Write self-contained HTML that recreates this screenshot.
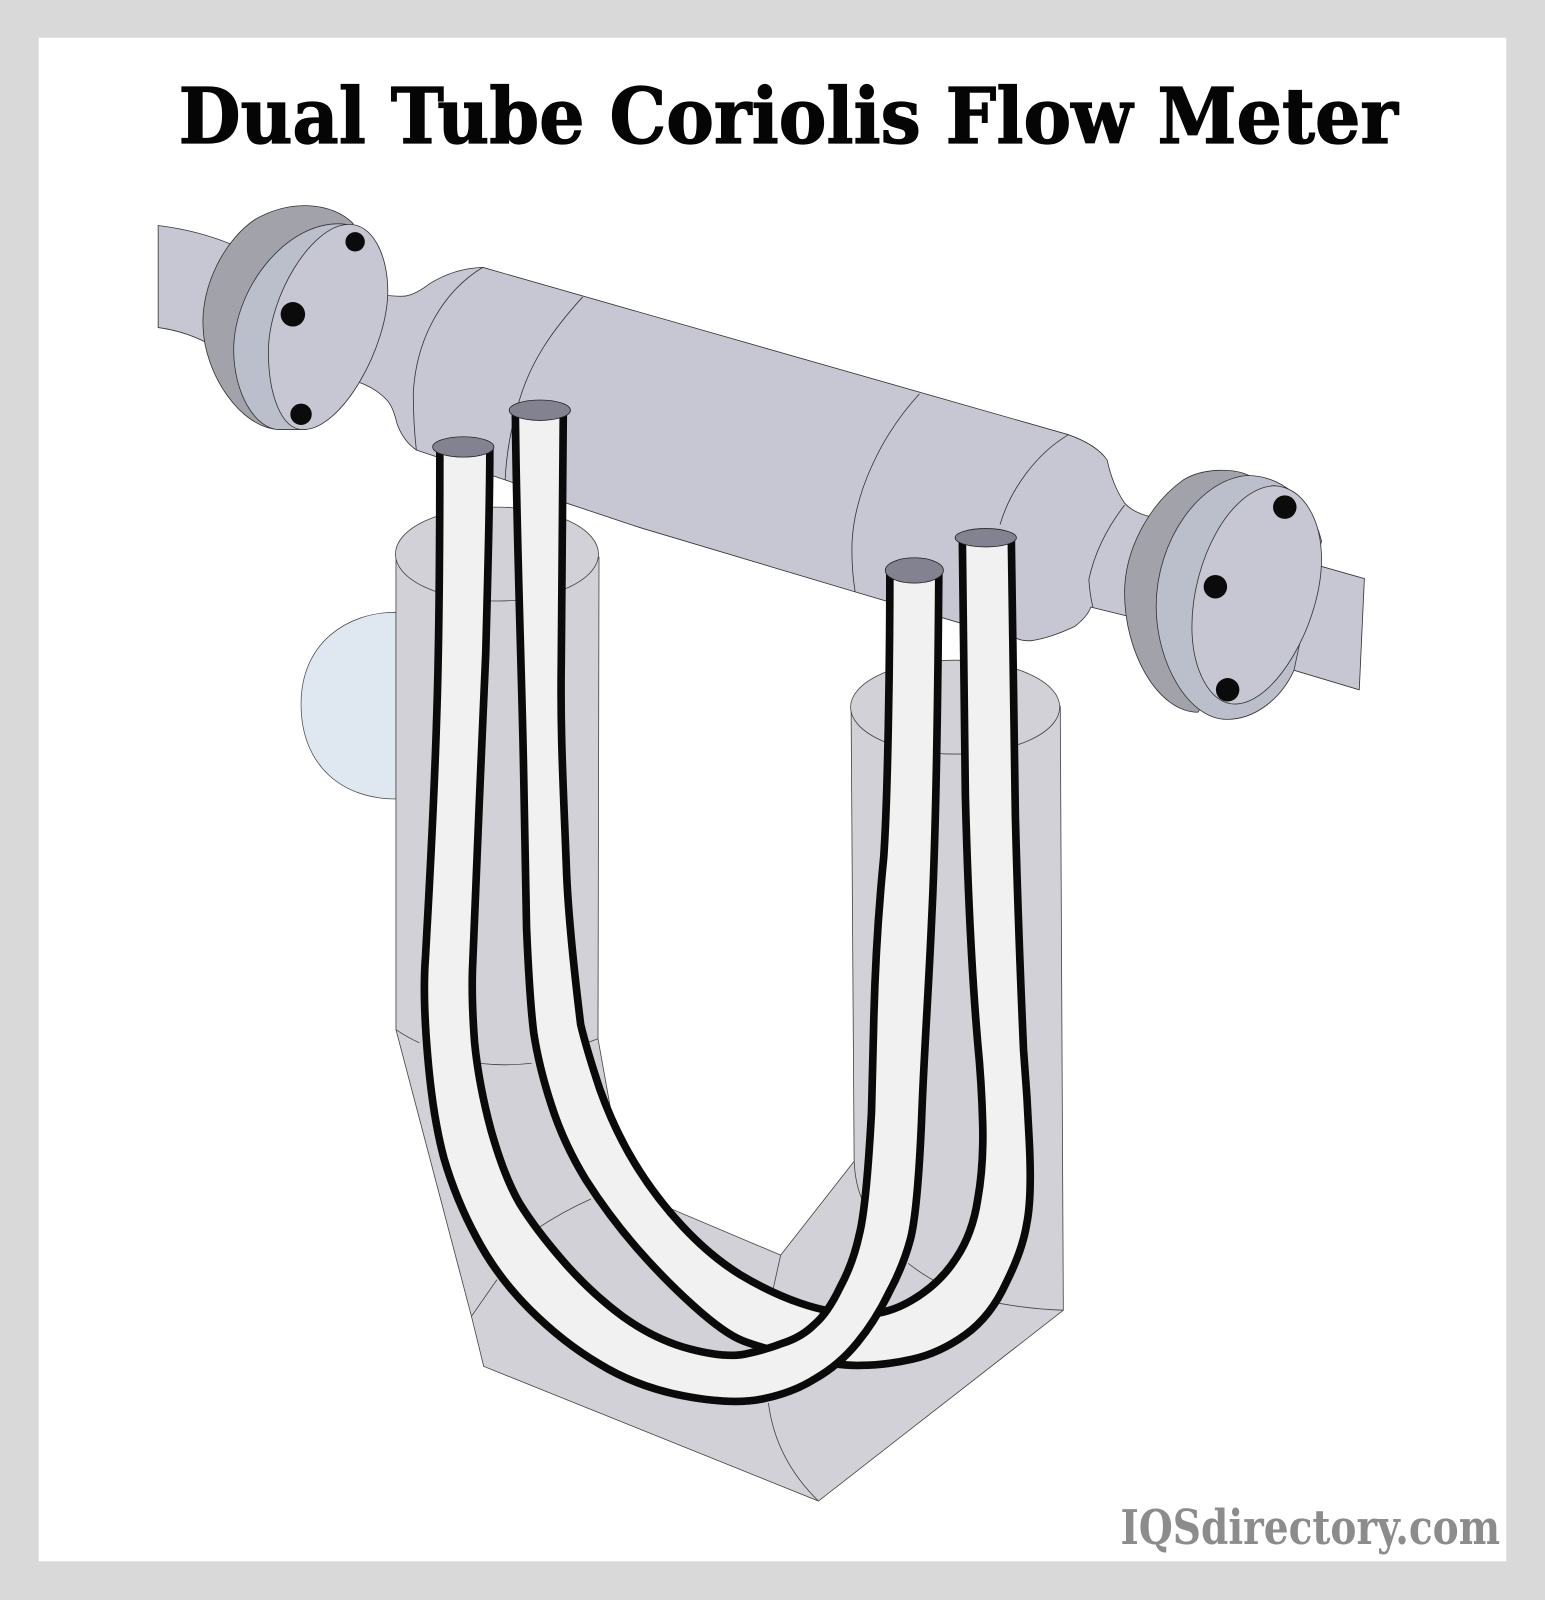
<!DOCTYPE html>
<html><head><meta charset="utf-8"><title>Dual Tube Coriolis Flow Meter</title>
<style>html,body{margin:0;padding:0;background:#d9d9d9}svg{display:block}</style></head>
<body>
<svg xmlns="http://www.w3.org/2000/svg" width="1545" height="1600" viewBox="0 0 1514 1568" preserveAspectRatio="none">
<rect width="1514" height="1568" fill="#d9d9d9"/>
<rect x="38" y="37" width="1438" height="1493" fill="#fff"/>
<text x="175" y="140" font-family="'DejaVu Serif','Liberation Serif',serif" font-weight="bold" font-size="75" textLength="1195" lengthAdjust="spacingAndGlyphs" fill="#050505" stroke="#050505" stroke-width="1.2">Dual Tube Coriolis Flow Meter</text>
<text x="1098" y="1513" font-family="'DejaVu Serif','Liberation Serif',serif" font-weight="bold" font-size="47" textLength="372" lengthAdjust="spacingAndGlyphs" fill="#8c8c8c">IQSdirectory.com</text>

<!-- bump -->
<path d="M388,600 C340,600 295,630 295,690 C295,750 335,783 388,783 Z" fill="#dfe8f0" stroke="#444" stroke-width=".7"/>

<!-- housing -->
<g fill="#d1d1d7" stroke="#444" stroke-width=".8">
<path d="M388,546 L388,1009 L462,1290 L474,1339 L802,1471 L1042,1284 L1039,692 L834,692 L837,1138 L765,1230 L649,1181 L602,1107 L586,1018 L587,546 Z"/>
<ellipse cx="487" cy="543" rx="99.500" ry="46"/>
<ellipse cx="936" cy="693" rx="102.500" ry="46"/>
<g fill="none">
<path d="M388,1009 Q398,1016 411,1022"/>
<path d="M469,1042 Q495,1045 521,1042"/>
<path d="M575,1022 L586,1018"/>
<path d="M462,1290 L487,1254"/>
<path d="M525,1205 Q550,1188 579,1175"/>
<path d="M765,1230 L757,1266"/>
<path d="M837,1138 Q838,1160 845,1176"/>
<path d="M890,1238 Q905,1250 921,1258"/>
<path d="M978,1277 Q1010,1283 1042,1284"/>
<path d="M753,1375 Q760,1430 802,1471"/>
</g>
</g>

<!-- stubs -->
<g fill="#c7c7d3" stroke="#333" stroke-width=".8">
<path d="M155,221 Q195,226 228,240 L210,340 Q185,325 155,321 Z"/>
<path d="M1270,548 L1337,567 L1332,676 L1255,653 Z"/>
</g>

<!-- main body -->
<path d="M375,289 Q390,291 398,290 Q408,288 421,278 Q445,263 473,262 L1047,426 Q1075,436 1085,451 Q1090,475 1102,493 Q1110,502 1126,506 L1110,605 L1069,595 Q1065,605 1053,614 Q1030,625 1010,628 Q1000,628 995,625 L939,610 L838,580 L627,517 L555,493 L500,472 L408,441 Q395,432 389,415 Q385,398 379,392 Q368,380 350,374 Z" fill="#c7c7d3" stroke="#333" stroke-width=".8"/>
<g fill="none" stroke="#333" stroke-width=".8">
<path d="M473,262 C435,285 408,330 405,385 Q405,415 408,441"/>
<path d="M571,291 C540,325 520,355 509,392 Q497,430 495,470"/>
<path d="M901,386 C865,425 838,480 835,530 Q834,555 838,580"/>
<path d="M1047,426 C1015,445 990,480 980,514"/>
<path d="M1102,495 Q1075,530 1067,568 Q1068,583 1071,595"/>
</g>

<!-- left flange -->
<g stroke="#333" stroke-width=".8">
<path d="M346,219 C325,198 285,195 250,215 C220,235 197,280 199,320 C200,365 235,420 274,421 L300,300 Z" fill="#a2a2ab"/>
<path d="M340,220 C285,212 229,280 229,343 C229,385 250,421 274,421 L300,421 Z" fill="#bbbfcb"/>
<path d="M340,220 C365,218 380,250 380,285 C380,340 335,421 297,421 C275,421 263,385 263,345 C263,290 305,222 340,220 Z" fill="#c7c7d3"/>
</g>
<g fill="#0b0b0b">
<circle cx="348" cy="237" r="9.500"/><circle cx="287" cy="308" r="12"/><circle cx="295" cy="406" r="10.500"/>
</g>

<!-- right flange -->
<g stroke="#333" stroke-width=".8">
<path d="M1224,466 C1210,459 1180,458 1160,470 C1125,495 1102,540 1102,581 C1102,640 1135,698 1174,698 L1230,600 Z" fill="#a2a2ab"/>
<path d="M1222,466 C1255,466 1285,490 1295,530 L1268,657 C1255,685 1230,705 1202,705 C1165,705 1133,650 1133,594 C1133,530 1175,470 1222,466 Z" fill="#bbbfcb"/>
<path d="M1249,476 C1278,478 1295,510 1295,548 C1295,610 1250,690 1210,690 C1185,690 1168,655 1168,614 C1168,550 1205,478 1249,476 Z" fill="#c7c7d3"/>
</g>
<g fill="#0b0b0b">
<circle cx="1259" cy="497" r="11.500"/><circle cx="1191" cy="575" r="11.500"/><circle cx="1203" cy="676" r="11.500"/>
</g>

<!-- tubes -->
<g fill="#f1f1f2" stroke="#0a0a0a" stroke-width="7.500" stroke-linejoin="round">
<path d="M505,402 C506,520 511,650 513,750 C514,830 515,870 516,910 Q519,980 523,1012 Q528,1045 540,1082 Q552,1120 574,1156 Q597,1192 624,1223 Q651,1254 680,1280 Q710,1307 728,1314 Q746,1321 784,1330 Q822,1339 844,1338 Q867,1338 894,1332 Q921,1326 946,1308 Q971,1290 986,1257 Q1002,1225 1006,1200 Q1011,1176 1009,1127 Q1007,1078 1003,1029 C1000,960 997,880 995,800 C993,700 992,600 991,526 L943,526 C944,620 945,700 946,780 C948,860 952,950 958,1021 Q962,1062 963,1102 Q964,1143 958,1176 Q953,1209 937,1233 Q921,1258 894,1274 Q867,1290 840,1288 Q813,1287 784,1277 Q755,1267 725,1249 Q696,1231 669,1202 Q642,1173 622,1140 Q602,1107 588,1068 Q575,1029 569,1004 C560,930 556,880 555,850 C552,770 549,720 550,650 C551,540 552,450 552,402 Z"/>
<path d="M431,438 C431,560 430,640 428,700 C425,800 420,880 417,937 Q414,975 419,1034 Q424,1094 435,1135 Q447,1176 467,1213 Q487,1251 519,1283 Q552,1316 588,1337 Q624,1359 670,1368 Q717,1377 747,1371 Q777,1365 799,1351 Q822,1338 840,1316 Q858,1294 871,1267 Q885,1241 892,1215 Q899,1189 903,1100 C905,1040 910,970 913,900 C917,820 919,700 920,559 L872,559 C872,650 870,780 866,840 C860,900 857,960 856,1010 C855,1050 854,1080 854,1090 Q849,1183 842,1210 Q836,1238 823,1262 Q811,1287 798,1298 Q786,1310 768,1316 Q750,1323 730,1327 Q710,1331 676,1322 Q642,1313 610,1290 Q579,1267 552,1236 Q525,1205 509,1179 Q494,1153 481,1107 Q469,1062 465,1021 Q462,980 463,950 C465,880 473,720 476,640 C478,560 480,500 480,438 Z"/>
</g>
<g fill="#828290" stroke="#222" stroke-width=".8">
<ellipse cx="454" cy="438" rx="30" ry="10"/>
<ellipse cx="529" cy="402" rx="30" ry="10"/>
<ellipse cx="896" cy="559" rx="28.500" ry="12.400"/>
<ellipse cx="966" cy="527" rx="30" ry="9"/>
</g>
</svg>
</body></html>
